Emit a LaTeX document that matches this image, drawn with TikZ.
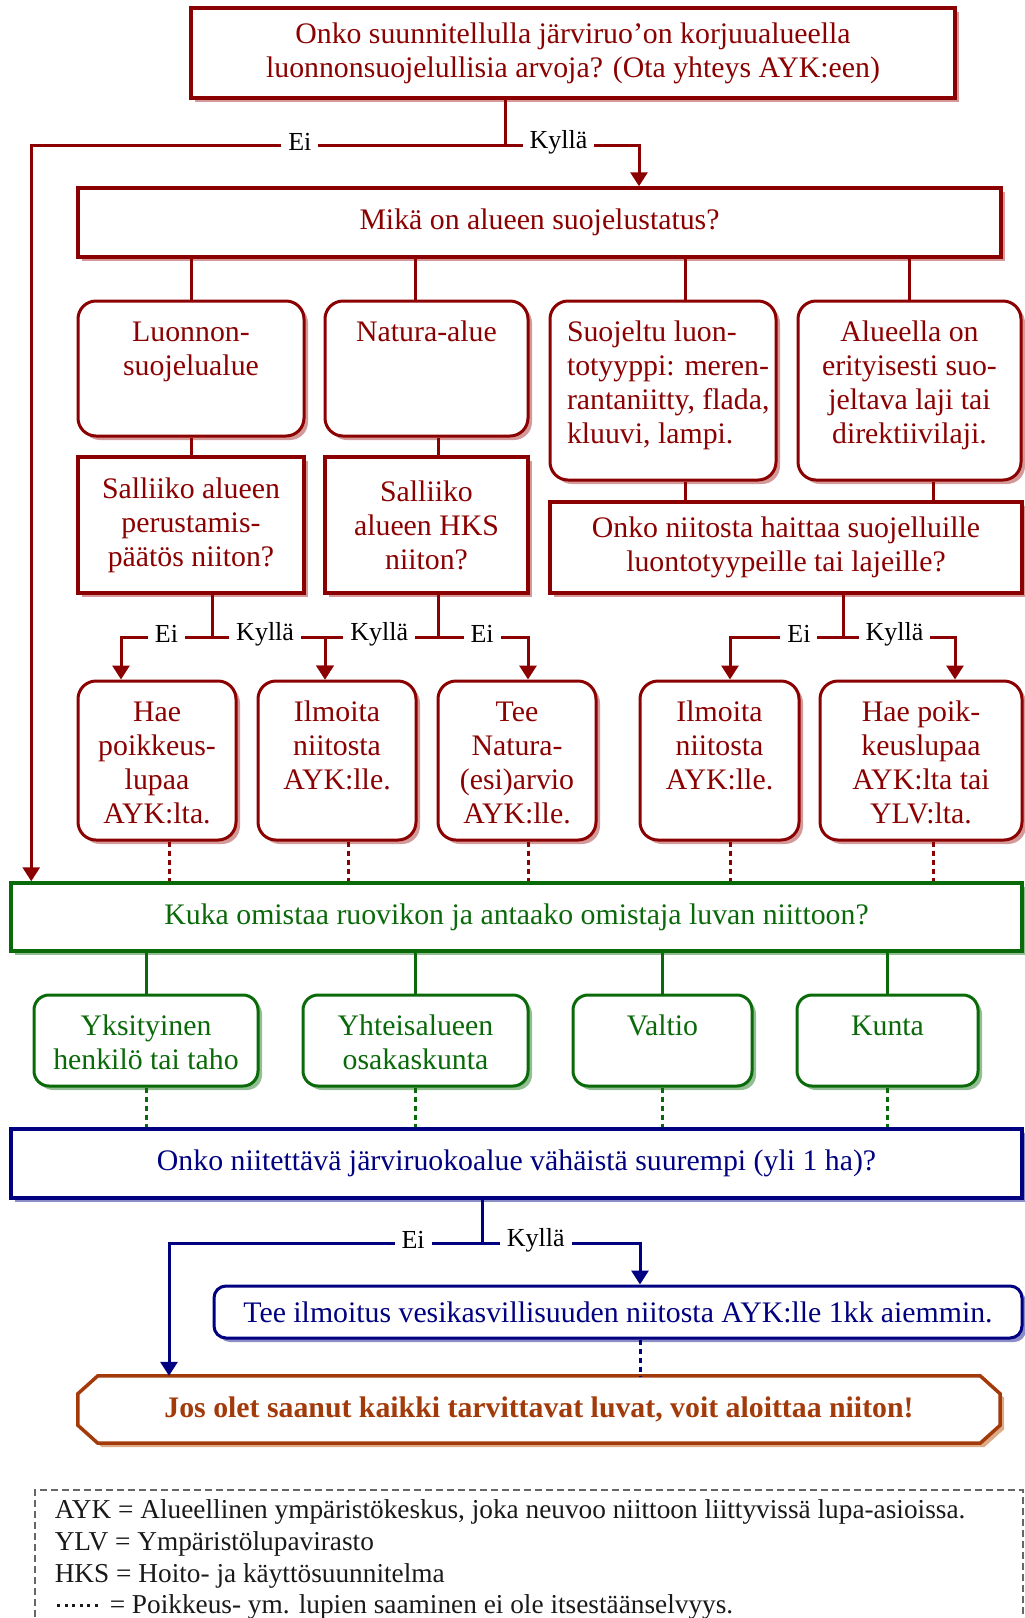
\documentclass[tikz,border=0pt]{standalone}
\usepackage{fontspec}
\setmainfont{Liberation Serif}
\usetikzlibrary{arrows.meta,shadows,backgrounds}
\definecolor{viini}{HTML}{8B0000}
\definecolor{viinivarjo}{HTML}{D49A9A}
\definecolor{vihrea}{HTML}{0A6A0A}
\definecolor{vihreavarjo}{HTML}{93BE93}
\definecolor{sini}{HTML}{000080}
\definecolor{sinivarjo}{HTML}{8C8CC6}
\definecolor{ruskea}{HTML}{A33A0A}
\definecolor{ruskeavarjo}{HTML}{DDAA88}
\newcommand{\ylae}[3]{\parbox[c][#2][t]{#1}{\centering\rule{0pt}{40pt}#3}}
\newcommand{\vasen}[3]{\parbox[c][#2][t]{#1}{\raggedright\leftskip=17pt\rule{0pt}{40pt}#3}}
\newcommand{\pisteet}{\hbox to 45pt{\leaders\hbox to 7.5pt{\hss\rule[7pt]{3pt}{3pt}\hss}\hfill}}

\begin{document}
\begin{tikzpicture}[x=1pt, y=-1pt]
\tikzset{teksti/.style={font=\fontsize{29.8}{34}\selectfont},
  kulmikas/.style={teksti, draw=#1, line width=3.5pt, fill=white, text=#1, align=center, inner sep=0pt,
    drop shadow={shadow xshift=4pt, shadow yshift=-4pt, fill=#1varjo, opacity=1}},
  pyorea/.style={kulmikas=#1, line width=3pt, rounded corners=18pt},
  yhteys/.style={draw=#1, line width=3pt},
  nuoli/.style={yhteys=#1, -{Triangle[width=17pt, length=14pt]}},
  katko/.style={draw=#1, line width=3pt, dash pattern=on 5pt off 4pt},
  vastaus/.style={fill=white, text=black, font=\fontsize{26}{30}\selectfont, inner xsep=7pt, inner ysep=1pt, yshift=3.5pt}}
\useasboundingbox (0,0) rectangle (1025,1618);
\node[kulmikas=viini, minimum width=764pt, minimum height=90pt] (kysymys) at (573,53) {Onko suunnitellulla järviruo’on korjuualueella\\luonnonsuojelullisia arvoja? (Ota yhteys AYK:een)};
\node[kulmikas=viini, minimum width=923pt, minimum height=69pt] (status) at (539.5,222.5) {Mikä on alueen suojelustatus?};
\node[pyorea=viini] (luonnon) at (191,368.5) {\ylae{226pt}{135pt}{Luonnon-\\suojelualue}};
\node[pyorea=viini] (natura) at (426.5,368.5) {\ylae{203pt}{135pt}{Natura-alue}};
\node[pyorea=viini] (suojeltu) at (663,390.5) {\vasen{226pt}{179pt}{Suojeltu luon-\\totyyppi: meren-\\rantaniitty, flada,\\kluuvi, lampi.}};
\node[pyorea=viini] (laji) at (909.5,390.5) {\ylae{223pt}{179pt}{Alueella on\\erityisesti suo-\\jeltava laji tai\\direktiivilaji.}};
\node[kulmikas=viini, minimum width=226pt, minimum height=136pt] (salliiko1) at (191,525) {Salliiko alueen\\perustamis-\\päätös niiton?};
\node[kulmikas=viini, minimum width=203pt, minimum height=136pt] (salliiko2) at (426.5,525) {Salliiko\\alueen HKS\\niiton?};
\node[kulmikas=viini, minimum width=472pt, minimum height=91pt] (haitta) at (786,547.5) {Onko niitosta haittaa suojelluille\\luontotyypeille tai lajeille?};
\node[pyorea=viini] (hae1) at (157,760.5) {\ylae{158pt}{159pt}{Hae\\poikkeus-\\lupaa\\AYK:lta.}};
\node[pyorea=viini] (ilmoita1) at (337,760.5) {\ylae{158pt}{159pt}{Ilmoita\\niitosta\\AYK:lle.}};
\node[pyorea=viini] (tee1) at (517,760.5) {\ylae{158pt}{159pt}{Tee\\Natura-\\(esi)arvio\\AYK:lle.}};
\node[pyorea=viini] (ilmoita2) at (719.5,760.5) {\ylae{159pt}{159pt}{Ilmoita\\niitosta\\AYK:lle.}};
\node[pyorea=viini] (hae2) at (921,760.5) {\ylae{202pt}{159pt}{Hae poik-\\keuslupaa\\AYK:lta tai\\YLV:lta.}};
\node[kulmikas=vihrea, minimum width=1011pt, minimum height=68pt] (omistaja) at (516.5,917) {Kuka omistaa ruovikon ja antaako omistaja luvan niittoon?};
\node[pyorea=vihrea, rounded corners=15pt] (yksityinen) at (146,1040.5) {\ylae{224pt}{91pt}{Yksityinen\\henkilö tai taho}};
\node[pyorea=vihrea, rounded corners=15pt] (yhteis) at (415.5,1040.5) {\ylae{225pt}{91pt}{Yhteisalueen\\osakaskunta}};
\node[pyorea=vihrea, rounded corners=15pt] (valtio) at (662.5,1040.5) {\ylae{179pt}{91pt}{Valtio}};
\node[pyorea=vihrea, rounded corners=15pt] (kunta) at (887.5,1040.5) {\ylae{181pt}{91pt}{Kunta}};
\node[kulmikas=sini, minimum width=1011pt, minimum height=69pt] (ala) at (516.5,1163.5) {Onko niitettävä järviruokoalue vähäistä suurempi (yli 1 ha)?};
\node[pyorea=sini, rounded corners=12pt, minimum width=808pt, minimum height=52pt] (tee2) at (618,1312) {Tee ilmoitus vesikasvillisuuden niitosta AYK:lle 1kk aiemmin.};
\node[text=ruskea, font=\fontsize{29.8}{34}\selectfont\bfseries, minimum width=922pt, minimum height=67pt] (loppu) at (539,1409.5) {Jos olet saanut kaikki tarvittavat luvat, voit aloittaa niiton!};
\begin{scope}[on background layer]
\draw[draw=ruskea, line width=3.5pt, fill=white, drop shadow={shadow xshift=4pt, shadow yshift=-4pt, fill=ruskeavarjo, opacity=1}] ([xshift=20pt]loppu.north west) -- ([xshift=-20pt]loppu.north east) -- ([yshift=-18pt]loppu.north east) -- ([yshift=18pt]loppu.south east) -- ([xshift=-20pt]loppu.south east) -- ([xshift=20pt]loppu.south west) -- ([yshift=18pt]loppu.south west) -- ([yshift=-18pt]loppu.north west) -- cycle;
\end{scope}
\node[draw=black!60, dash pattern=on 7pt off 4pt, line width=1.5pt, inner xsep=20pt, inner ysep=0pt, anchor=north west, text=black!90, font=\fontsize{27.3}{31.7}\selectfont] (selite) at (34,1489) {\parbox[c][170pt][t]{948pt}{\raggedright\rule{0pt}{29pt}AYK = Alueellinen ympäristökeskus, joka neuvoo niittoon liittyvissä lupa-asioissa.\\YLV = Ympäristölupavirasto\\HKS = Hoito- ja käyttösuunnitelma\\\mbox{\pisteet\hspace{10pt}= Poikkeus- ym. lupien saaminen ei ole itsestäänselvyys.}}};
\draw[nuoli=viini] ([xshift=-68pt]kysymys.south) -- ++(0,46) -| node[vastaus, pos=.2]{Kyllä} ([xshift=99.5pt]status.north);
\draw[nuoli=viini] ([xshift=-68pt]kysymys.south) -- ++(0,46) -| node[vastaus, pos=.2165]{Ei} ([xshift=22pt]omistaja.north west);
\draw[yhteys=viini] (luonnon.north) -- (luonnon.north |- status.south);
\draw[yhteys=viini] ([xshift=-11.5pt]natura.north) -- ([xshift=-11.5pt]natura.north |- status.south);
\draw[yhteys=viini] ([xshift=22pt]suojeltu.north) -- ([xshift=22pt]suojeltu.north |- status.south);
\draw[yhteys=viini] (laji.north) -- (laji.north |- status.south);
\draw[yhteys=viini] (luonnon.south) -- (salliiko1.north);
\draw[yhteys=viini] ([xshift=11.5pt]natura.south) -- ([xshift=11.5pt]salliiko2.north);
\draw[yhteys=viini] ([xshift=22pt]suojeltu.south) -- ([xshift=22pt]suojeltu.south |- haitta.north);
\draw[yhteys=viini] ([xshift=23.5pt]laji.south) -- ([xshift=23.5pt]laji.south |- haitta.north);
\draw[nuoli=viini] ([xshift=21pt]salliiko1.south) -- ++(0,43) -| node[vastaus, pos=.25]{Ei} ([xshift=-36pt]hae1.north);
\draw[nuoli=viini] ([xshift=21pt]salliiko1.south) -- ++(0,43) -| node[vastaus, pos=.235]{Kyllä} ([xshift=-12pt]ilmoita1.north);
\draw[nuoli=viini] ([xshift=11.5pt]salliiko2.south) -- ++(0,43) -| node[vastaus, pos=.26]{Kyllä} ([xshift=-12pt]ilmoita1.north);
\draw[nuoli=viini] ([xshift=11.5pt]salliiko2.south) -- ++(0,43) -| node[vastaus, pos=.245]{Ei} ([xshift=11pt]tee1.north);
\draw[nuoli=viini] ([xshift=57pt]haitta.south) -- ++(0,43) -| node[vastaus, pos=.195]{Ei} ([xshift=10.5pt]ilmoita2.north);
\draw[nuoli=viini] ([xshift=57pt]haitta.south) -- ++(0,43) -| node[vastaus, pos=.23]{Kyllä} ([xshift=34pt]hae2.north);
\draw[katko=viini] ([xshift=12pt]hae1.south) -- ([xshift=12pt]hae1.south |- omistaja.north);
\draw[katko=viini] ([xshift=11pt]ilmoita1.south) -- ([xshift=11pt]ilmoita1.south |- omistaja.north);
\draw[katko=viini] ([xshift=11pt]tee1.south) -- ([xshift=11pt]tee1.south |- omistaja.north);
\draw[katko=viini] ([xshift=10.5pt]ilmoita2.south) -- ([xshift=10.5pt]ilmoita2.south |- omistaja.north);
\draw[katko=viini] ([xshift=12pt]hae2.south) -- ([xshift=12pt]hae2.south |- omistaja.north);
\draw[yhteys=vihrea] (yksityinen.north) -- (yksityinen.north |- omistaja.south);
\draw[yhteys=vihrea] (yhteis.north) -- (yhteis.north |- omistaja.south);
\draw[yhteys=vihrea] (valtio.north) -- (valtio.north |- omistaja.south);
\draw[yhteys=vihrea] (kunta.north) -- (kunta.north |- omistaja.south);
\draw[katko=vihrea] (yksityinen.south) -- (yksityinen.south |- ala.north);
\draw[katko=vihrea] (yhteis.south) -- (yhteis.south |- ala.north);
\draw[katko=vihrea] (valtio.south) -- (valtio.south |- ala.north);
\draw[katko=vihrea] (kunta.south) -- (kunta.south |- ala.north);
\draw[nuoli=sini] ([xshift=-34.5pt]ala.south) -- ++(0,44) -| node[vastaus, pos=.11]{Ei} ([xshift=-370pt]loppu.north);
\draw[nuoli=sini] ([xshift=-34.5pt]ala.south) -- ++(0,44) -| node[vastaus, pos=.17]{Kyllä} ([xshift=22pt]tee2.north);
\draw[katko=sini] ([xshift=22pt]tee2.south) -- ([xshift=22pt]tee2.south |- loppu.north);
\end{tikzpicture}
\end{document}
